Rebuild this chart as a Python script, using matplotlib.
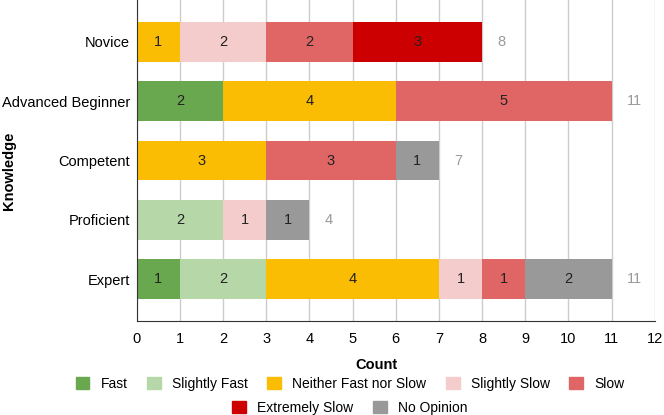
import numpy as np
import matplotlib.pyplot as plt
from matplotlib.patches import Patch

plt.rcParams['font.family'] = ['Liberation Sans', 'DejaVu Sans']

# Data
levels = ['Novice', 'Advanced Beginner', 'Competent', 'Proficient', 'Expert']
series = ['Fast', 'Slightly Fast', 'Neither Fast nor Slow', 'Slightly Slow',
          'Slow', 'Extremely Slow', 'No Opinion']
fast = [0, 2, 0, 0, 1]
slightly_fast = [0, 0, 0, 2, 2]
neither = [1, 4, 3, 0, 4]
slightly_slow = [2, 0, 0, 1, 1]
slow = [2, 5, 3, 0, 1]
extremely_slow = [3, 0, 0, 0, 0]
no_opinion = [0, 0, 1, 1, 2]

colors = ['#6aa84f', '#b6d7a8', '#fbbc04', '#f4cccc', '#e06666', '#cc0000', '#999999']
values = [fast, slightly_fast, neither, slightly_slow, slow, extremely_slow, no_opinion]

fig = plt.figure(figsize=(6.64, 4.15), dpi=100)
ax = fig.add_axes([0.206, 0.2265, 0.78, 0.7735])

y = np.arange(len(levels))
left = np.zeros(len(levels))
for name, vals, col in zip(series, values, colors):
    vals = np.array(vals, dtype=float)
    ax.barh(y, vals, left=left, height=0.67, color=col, label=name, zorder=2)
    for yi, (l, v) in enumerate(zip(left, vals)):
        if v > 0:
            ax.text(l + v / 2, yi, str(int(v)), ha='center', va='center',
                    fontsize=10.5, color='#222222', zorder=3)
    left += vals

for yi, tot in enumerate(left):
    ax.text(tot + 0.35, yi, str(int(tot)), ha='left', va='center',
            fontsize=10.5, color='#999999')

ax.set_xlim(0, 12)
ax.set_ylim(4.7, -0.7)
ax.set_xticks(range(13))
ax.set_yticks(y)
ax.set_yticklabels(levels)
ax.tick_params(length=0, labelsize=10.5)
ax.tick_params(axis='y', pad=5)
ax.tick_params(axis='x', pad=8)
ax.grid(axis='x', color='#cccccc', lw=1, zorder=0)
for s in ['top', 'right']:
    ax.spines[s].set_visible(False)
ax.spines['left'].set_color('#333333')
ax.spines['bottom'].set_color('#333333')
ax.set_xlabel('Count', fontweight='bold', fontsize=10.5, labelpad=8)
ax.xaxis.set_label_coords(0.463, -0.115)
fig.text(0.0136, 0.588, 'Knowledge', rotation=90, ha='center', va='center',
         fontweight='bold', fontsize=10.5)

handles = [Patch(color=c, label=n) for n, c in zip(series, colors)]
fig.legend(handles=handles[:5], loc='center', bbox_to_anchor=(0.527, 0.075), ncol=5,
           frameon=False, fontsize=10, handlelength=1.0, handleheight=1.0,
           columnspacing=1.4, handletextpad=0.8)
fig.legend(handles=handles[5:], loc='center', bbox_to_anchor=(0.527, 0.018), ncol=2,
           frameon=False, fontsize=10, handlelength=1.0, handleheight=1.0,
           columnspacing=1.4, handletextpad=0.8)

fig.savefig('out.png', dpi=100)
